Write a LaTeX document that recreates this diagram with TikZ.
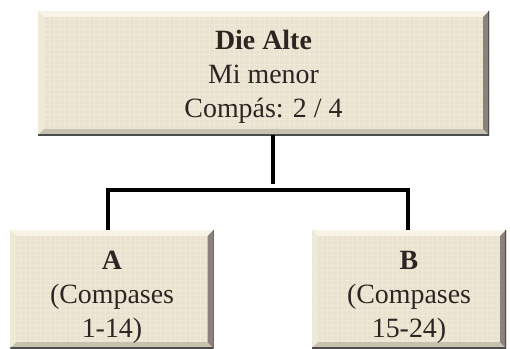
\documentclass[tikz,border=0pt]{standalone}
\usepackage{fontspec}
\setmainfont{Liberation Serif}
\usepackage{xcolor}
\usetikzlibrary{positioning, calc}
\definecolor{linen}{HTML}{E9E2CF}
\definecolor{linenweave}{HTML}{EFE9D9}
\definecolor{bevtop}{HTML}{F7F3E6}
\definecolor{bevleft}{HTML}{EFE9D8}
\definecolor{bevbottom}{HTML}{C9C1AF}
\definecolor{bevright}{HTML}{8C827B}
\definecolor{ink}{HTML}{2B2622}
\newcommand{\boxlines}[2]{\raisebox{#1}[\height][\depth]{\begin{tabular}{@{}c@{}}#2\end{tabular}}}
\tikzset{
  bevel/.style={path picture={
      \coordinate (nw) at (path picture bounding box.north west);
      \coordinate (ne) at (path picture bounding box.north east);
      \coordinate (sw) at (path picture bounding box.south west);
      \coordinate (se) at (path picture bounding box.south east);
      \draw[linenweave, line width=0.6bp, step=5bp] (nw) grid (se);
      \fill[bevtop] (nw) -- (ne) -- ([shift={(-6bp,-6bp)}]ne) -- ([shift={(6bp,-6bp)}]nw) -- cycle;
      \fill[bevleft] (nw) -- ([shift={(6bp,-6bp)}]nw) -- ([shift={(6bp,6bp)}]sw) -- (sw) -- cycle;
      \fill[bevbottom] (sw) -- ([shift={(6bp,6bp)}]sw) -- ([shift={(-6bp,6bp)}]se) -- (se) -- cycle;
      \fill[bevright] (ne) -- (se) -- ([shift={(-6bp,6bp)}]se) -- ([shift={(-6bp,-6bp)}]ne) -- cycle;
      \draw[black!70, line width=1.5bp] (ne) -- (se) -- (sw);
    }},
  box/.style={fill=linen, bevel, inner sep=0pt, text=ink,
    font=\fontsize{28}{34}\selectfont},
  link/.style={line width=4bp, black}
}

\begin{document}
\begin{tikzpicture}[x=1bp, y=-1bp]
  \useasboundingbox (0,0) rectangle (510,348);

  \node [box, minimum width=451bp, minimum height=124bp] at (263.5,73) (alte)
        {\boxlines{-4bp}{\textbf{Die Alte}\\Mi menor\\Compás: 2 / 4}};
  \node [box, minimum width=203bp, minimum height=118bp] at (112,289) (partA)
        {\boxlines{-8bp}{\textbf{A}\\(Compases\\1-14)}};
  \node [box, minimum width=194bp, minimum height=118bp] at (409,289) (partB)
        {\boxlines{-8bp}{\textbf{B}\\(Compases\\15-24)}};

  \coordinate (fork) at (273,190);
  \coordinate (stem) at (273,184);
  \coordinate (forkA) at ([xshift=-4bp]partA.north |- fork);
  \coordinate (forkB) at ([xshift=-1bp]partB.north |- fork);

  \draw [link] (stem |- alte.south) -- (stem);
  \draw [link] ([xshift=-4bp]partA.north) -- (forkA) -- (forkB) -- ([xshift=-1bp]partB.north);
\end{tikzpicture}
\end{document}
